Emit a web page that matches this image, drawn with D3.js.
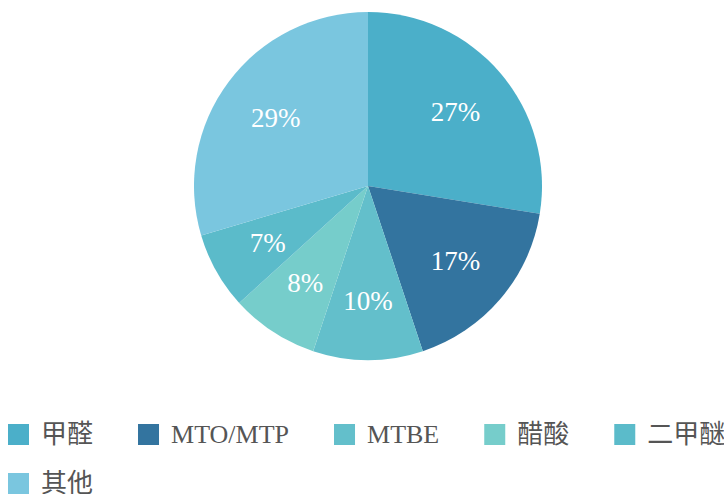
<!DOCTYPE html>
<html>
<head>
<meta charset="utf-8">
<script src="https://cdn.jsdelivr.net/npm/d3@7"></script>
<style>
  html, body { margin: 0; padding: 0; background: #fff; overflow: hidden; }
  svg { display: block; }
</style>
</head>
<body>
<script>
const categories = ['甲醛', 'MTO/MTP', 'MTBE', '醋酸', '二甲醚', '其他'];
const values = [27, 17, 10, 8, 7, 29];
const colors = ['#4bafc9', '#33749f', '#63bfcb', '#76cdcb', '#5bbbca', '#7ac6df'];

const width = 724;
const height = 494;
const font = '"Liberation Serif", "Noto Sans CJK SC", serif';

const svg = d3.select('body').append('svg')
  .attr('width', width)
  .attr('height', height);

const radius = 174;
const g = svg.append('g')
  .attr('transform', `translate(368, 186)`);

const data = categories.map((c, i) => ({ name: c, value: values[i] }));

const color = d3.scaleOrdinal()
  .domain(categories)
  .range(colors);

const pie = d3.pie()
  .value(d => d.value)
  .sort(null);

const arc = d3.arc()
  .innerRadius(0)
  .outerRadius(radius);

const labelArc = d3.arc()
  .innerRadius(115)
  .outerRadius(115);

const arcs = pie(data);

g.selectAll('path')
  .data(arcs)
  .join('path')
  .attr('d', arc)
  .attr('fill', d => color(d.data.name));

g.selectAll('text')
  .data(arcs)
  .join('text')
  .attr('transform', d => `translate(${labelArc.centroid(d)})`)
  .attr('text-anchor', 'middle')
  .attr('dy', '0.35em')
  .attr('fill', '#fff')
  .style('font-family', font)
  .style('font-size', '27px')
  .text(d => d.data.value + '%');

// legend
const perRow = 5;
const legend = svg.append('g');
let x = 8;
data.forEach((d, i) => {
  if (i > 0 && i % perRow === 0) x = 8;
  const row = Math.floor(i / perRow);
  const y = 424 + row * 49;
  const item = legend.append('g').attr('transform', `translate(${x}, ${y})`);
  item.append('rect')
    .attr('width', 21)
    .attr('height', 21)
    .attr('fill', color(d.name));
  const t = item.append('text')
    .attr('x', 33)
    .attr('y', 19)
    .attr('fill', '#555')
    .style('font-family', font)
    .style('font-size', '26px')
    .text(d.name);
  x += 33 + t.node().getComputedTextLength() + 45;
});
</script>
</body>
</html>
